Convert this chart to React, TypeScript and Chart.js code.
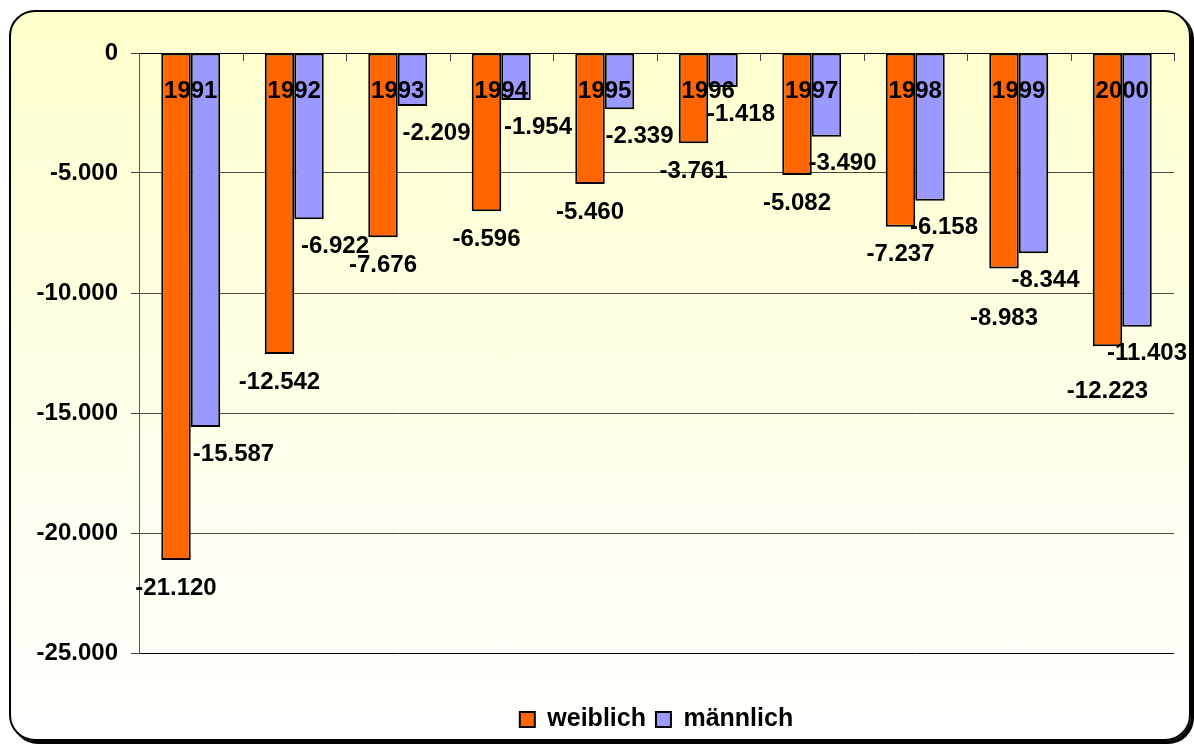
import React, { useEffect, useRef } from "react";
import { Chart, registerables } from "chart.js";

Chart.register(...registerables);

const years = ["1991", "1992", "1993", "1994", "1995", "1996", "1997", "1998", "1999", "2000"];
const weiblich = [-21120, -12542, -7676, -6596, -5460, -3761, -5082, -7237, -8983, -12223];
const maennlich = [-15587, -6922, -2209, -1954, -2339, -1418, -3490, -6158, -8344, -11403];
const seriesNames = ["weiblich", "männlich"];
const yTicks = [0, -5000, -10000, -15000, -20000, -25000];

const FONT = "Arial, 'Liberation Sans', sans-serif";

function fmt(v: number): string {
  const s = Math.abs(Math.round(v)).toString().replace(/\B(?=(\d{3})+(?!\d))/g, ".");
  return (v < 0 ? "-" : "") + s;
}

const overlayPlugin = {
  id: "overlay",
  afterDatasetsDraw(chart: any) {
    const { ctx, chartArea, scales } = chart;
    const x = scales.x;
    const y = scales.y;
    const y0 = y.getPixelForValue(0);
    const n = years.length;
    ctx.save();
    ctx.strokeStyle = "#444";
    ctx.lineWidth = 1;
    for (let i = 1; i <= n; i++) {
      const bx = i < n ? (x.getPixelForValue(i - 1) + x.getPixelForValue(i)) / 2 : chartArea.right;
      const px = Math.round(bx) + 0.5;
      ctx.beginPath();
      ctx.moveTo(px, y0);
      ctx.lineTo(px, y0 + 8);
      ctx.stroke();
    }
    ctx.fillStyle = "#000";
    ctx.font = `bold 24px ${FONT}`;
    ctx.textAlign = "center";
    ctx.textBaseline = "middle";
    years.forEach((t, i) => {
      ctx.fillText(t, x.getPixelForValue(i), y0 + 38);
    });
    const m0 = chart.getDatasetMeta(0).data;
    const m1 = chart.getDatasetMeta(1).data;
    for (let i = 0; i < n; i++) {
      const b = m1[i];
      const a = m0[i];
      const by = b.y + 27;
      const bx = b.x + 28 - 2 * i;
      let ay = a.y + 28;
      if (Math.abs(ay - by) < 22) ay = by + 38;
      ctx.fillText(fmt(weiblich[i]), a.x, ay);
      ctx.fillText(fmt(maennlich[i]), bx, by);
    }
    ctx.restore();
  },
};

export default function App() {
  const ref = useRef<HTMLCanvasElement | null>(null);

  useEffect(() => {
    if (!ref.current) return;
    const chart = new Chart(ref.current, {
      type: "bar",
      data: {
        labels: years,
        datasets: [
          {
            label: seriesNames[0],
            data: weiblich,
            backgroundColor: "#FF6600",
            borderColor: "#000000",
            borderWidth: 2,
            borderSkipped: false,
            categoryPercentage: 0.57,
            barPercentage: 1.0,
          },
          {
            label: seriesNames[1],
            data: maennlich,
            backgroundColor: "#9999FF",
            borderColor: "#000000",
            borderWidth: 2,
            borderSkipped: false,
            categoryPercentage: 0.57,
            barPercentage: 1.0,
          },
        ],
      },
      options: {
        animation: false,
        responsive: false,
        devicePixelRatio: 1,
        layout: { padding: { left: 0, right: 20, top: 53, bottom: 2 } },
        plugins: {
          legend: {
            display: true,
            position: "bottom",
            fullSize: false,
            align: "center",
            labels: {
              boxWidth: 15,
              boxHeight: 15,
              padding: 10,
              color: "#000",
              font: { family: FONT, size: 25, weight: "bold" },
            },
          },
          tooltip: { enabled: false },
          title: { display: false },
        },
        scales: {
          x: {
            position: "bottom",
            ticks: { display: false },
            grid: { display: false },
            border: { display: false },
            afterFit: (s: any) => {
              s.height = 44;
            },
          },
          y: {
            min: -25000,
            max: 0,
            afterBuildTicks: (s: any) => {
              s.ticks = yTicks.map((v) => ({ value: v }));
            },
            ticks: {
              padding: 13,
              color: "#000",
              font: { family: FONT, size: 24, weight: "bold" },
              callback: (v: any) => fmt(Number(v)),
            },
            grid: {
              color: (c: any) => (c.tick && (c.tick.value === 0 || c.tick.value === -25000) ? "#000" : "#4a4a4a"),
              tickColor: "#444",
              tickLength: 8,
              lineWidth: 1,
            },
            border: { display: true, color: "#555", width: 1 },
            afterFit: (s: any) => {
              s.width = 139;
            },
          },
        },
      },
      plugins: [overlayPlugin],
    });
    return () => chart.destroy();
  }, []);

  return (
    <div style={{ position: "absolute", left: 0, top: 0, width: 1194, height: 744, overflow: "hidden" }}>
      <div
        style={{
          position: "absolute",
          left: 9,
          top: 10,
          width: 1182,
          height: 731,
          boxSizing: "border-box",
          border: "2px solid #000",
          borderRadius: 26,
          background: "linear-gradient(180deg, #FFFFCC 0%, #FFFFE4 45%, #FFFFFF 100%)",
          boxShadow: "3px 3px 0 #000",
        }}
      />
      <canvas
        ref={ref}
        width={1194}
        height={744}
        style={{ position: "absolute", left: 0, top: 0, width: 1194, height: 744 }}
      />
    </div>
  );
}
